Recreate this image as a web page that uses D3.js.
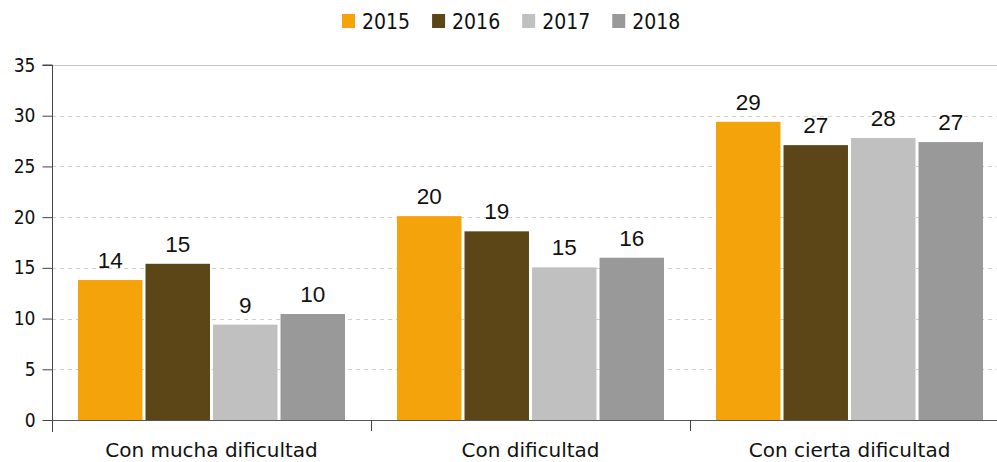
<!DOCTYPE html>
<html>
<head>
<meta charset="utf-8">
<script src="https://cdn.jsdelivr.net/npm/d3@7"></script>
<style>
  html, body { margin: 0; padding: 0; background: #fff; }
  svg { display: block; }
  .cond { font-family: "DejaVu Sans Condensed", "DejaVu Sans", sans-serif; font-stretch: condensed; }
  .reg { font-family: "DejaVu Sans", sans-serif; }
</style>
</head>
<body>
<svg id="chart" width="997" height="462"></svg>
<script>
const categories = ["Con mucha dificultad", "Con dificultad", "Con cierta dificultad"];
const years = ["2015", "2016", "2017", "2018"];
const values2015 = [13.8, 20.1, 29.4];
const values2016 = [15.4, 18.6, 27.1];
const values2017 = [9.4, 15.05, 27.8];
const values2018 = [10.45, 16.0, 27.4];
const labels2015 = ["14", "20", "29"];
const labels2016 = ["15", "19", "27"];
const labels2017 = ["9", "15", "28"];
const labels2018 = ["10", "16", "27"];
const yTicks = [0, 5, 10, 15, 20, 25, 30, 35];
const colors = ["#F5A30B", "#5C4517", "#C0C0C0", "#999999"];

const seriesValues = [values2015, values2016, values2017, values2018];
const seriesLabels = [labels2015, labels2016, labels2017, labels2018];

const svg = d3.select("#chart");
const mLeft = 52, mRight = 1009, mTop = 65, mBottom = 420;

const x0 = d3.scaleBand().domain(categories).range([mLeft, mRight]).paddingInner(0).paddingOuter(0);
const x1 = d3.scaleBand().domain(years).range([26, x0.bandwidth() - 26]).paddingInner(0.045);
const y = d3.scaleLinear().domain([0, 35]).range([mBottom, mTop]);

// gridlines
svg.append("g").selectAll("line").data(yTicks.filter(t => t > 0)).join("line")
  .attr("x1", mLeft).attr("x2", 997)
  .attr("y1", d => Math.round(y(d)) + 0.5).attr("y2", d => Math.round(y(d)) + 0.5)
  .attr("stroke", d => d === 35 ? "#c4c4c4" : "#cfcfcf")
  .attr("stroke-dasharray", d => d === 35 ? null : "4,4")
  .attr("stroke-width", 1);

// bars
const groups = svg.append("g").selectAll("g").data(categories).join("g")
  .attr("transform", c => `translate(${x0(c)},0)`);

groups.each(function(c, ci) {
  const g = d3.select(this);
  years.forEach((yr, si) => {
    const v = seriesValues[si][ci];
    g.append("rect")
      .attr("x", x1(yr))
      .attr("y", y(v))
      .attr("width", x1.bandwidth())
      .attr("height", y(0) - y(v))
      .attr("fill", colors[si]);
    g.append("text")
      .attr("x", x1(yr) + x1.bandwidth() / 2)
      .attr("y", y(v) - 12)
      .attr("text-anchor", "middle")
      .attr("font-family", "'Liberation Sans', Arial, sans-serif")
      .attr("font-size", 22.5)
      .attr("fill", "#111")
      .text(seriesLabels[si][ci]);
  });
});

// y axis
const yAxis = d3.axisLeft(y).tickValues(yTicks).tickSize(10).tickPadding(7);
const yg = svg.append("g").attr("transform", `translate(${mLeft + 0.5},0)`).call(yAxis);
yg.select(".domain").attr("stroke", "#444").attr("d", `M-10,${y(35)}H0V${y(0) + 12}`);
yg.selectAll(".tick line").attr("stroke", "#444");
yg.selectAll(".tick text").attr("class", "cond").attr("font-size", 19).attr("fill", "#111");

// x axis
const xAxis = d3.axisBottom(x0).tickSize(0).tickPadding(0);
const xg = svg.append("g").attr("transform", `translate(0,${mBottom + 0.5})`).call(xAxis);
xg.select(".domain").attr("stroke", "#555").attr("d", `M${mLeft},0H997`);
xg.selectAll(".tick text").attr("class", "reg").attr("font-size", 20).attr("fill", "#111")
  .attr("dy", null).attr("y", 36);
// category boundary ticks
svg.append("g").selectAll("line").data(categories).join("line")
  .attr("x1", c => Math.round(x0(c)) + 0.5).attr("x2", c => Math.round(x0(c)) + 0.5)
  .attr("y1", mBottom).attr("y2", mBottom + 11)
  .attr("stroke", "#444");

// legend
const legend = svg.append("g");
let lx = 0;
years.forEach((yr, i) => {
  const it = legend.append("g");
  it.append("rect").attr("x", 0).attr("y", -6).attr("width", 13).attr("height", 14).attr("fill", colors[i]);
  const t = it.append("text").attr("class", "cond").attr("x", 20).attr("y", 9)
    .attr("font-size", 21).attr("fill", "#111").text(yr);
  const w = 20 + t.node().getComputedTextLength();
  it.attr("transform", `translate(${lx},0)`);
  lx += w + 22;
});
legend.attr("transform", `translate(342,20)`);
</script>
</body>
</html>
